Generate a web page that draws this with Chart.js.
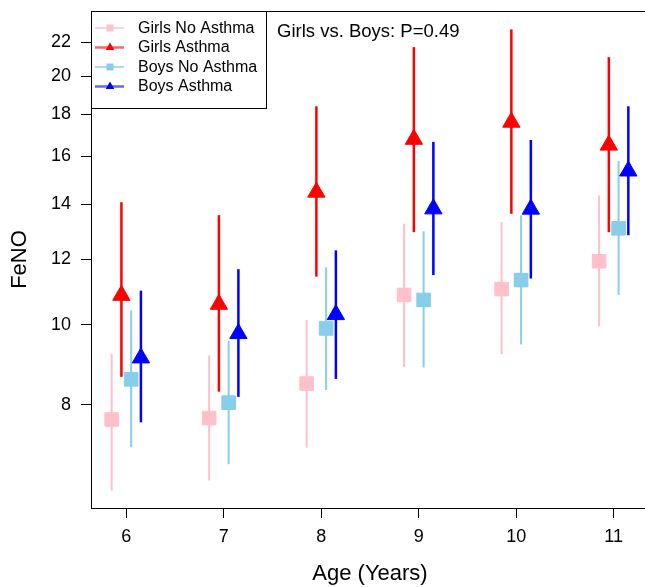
<!DOCTYPE html>
<html>
<head>
<meta charset="utf-8">
<script src="https://cdn.jsdelivr.net/npm/chart.js@4/dist/chart.umd.min.js"></script>
<style>
  html, body { margin: 0; padding: 0; background: #fff; overflow: hidden; width: 645px; height: 587px; }
  #wrap { position: absolute; left: 0; top: 0; width: 660px; height: 587px; }
</style>
</head>
<body>
<div id="wrap"><canvas id="c"></canvas></div>
<script>
// ---- data ----
const ages = [6, 7, 8, 9, 10, 11];
const yTicks = [8, 10, 12, 14, 16, 18, 20, 22];

const girlsNoAsthma    = [7.68, 7.71, 8.49, 10.87, 11.05, 11.94];
const girlsNoAsthmaLo  = [6.30, 6.48, 7.10, 8.89, 9.21, 9.96];
const girlsNoAsthmaHi  = [9.22, 9.18, 10.14, 13.26, 13.32, 14.35];

const girlsAsthma      = [10.86, 10.59, 14.48, 16.78, 17.60, 16.51];
const girlsAsthmaLo    = [8.65, 8.30, 11.44, 12.95, 13.63, 12.95];
const girlsAsthmaHi    = [14.08, 13.58, 18.40, 21.70, 22.80, 21.10];

const boysNoAsthma     = [8.59, 8.05, 9.90, 10.72, 11.33, 13.09];
const boysNoAsthmaLo   = [7.11, 6.78, 8.34, 8.88, 9.47, 10.87];
const boysNoAsthmaHi   = [10.41, 9.57, 11.74, 12.98, 13.57, 15.80];

const boysAsthma       = [9.12, 9.76, 10.29, 13.82, 13.81, 15.36];
const boysAsthmaLo     = [7.62, 8.18, 8.60, 11.49, 11.38, 12.84];
const boysAsthmaHi     = [11.00, 11.68, 12.31, 16.66, 16.75, 18.40];

const seriesNames = ['Girls No Asthma', 'Girls Asthma', 'Boys No Asthma', 'Boys Asthma'];
const annotationText = 'Girls vs. Boys: P=0.49';

// ---- styling ----
const FONT = "'Liberation Sans', Arial, Helvetica, sans-serif";
Chart.defaults.font.family = FONT;
Chart.defaults.color = '#000';

const dodge = [-0.15, -0.05, 0.05, 0.15];
const colors = ['#FFC0CB', '#FF0000', '#87CEEB', '#0000FF'];
const legendLine = ['rgba(255,192,203,0.7)', 'rgba(255,0,0,0.6)', 'rgba(135,206,235,0.7)', 'rgba(0,0,255,0.6)'];
const shapes = ['rect', 'triangle', 'rect', 'triangle'];
const barWidths = [2, 2.5, 2, 2.5];
const means = [girlsNoAsthma, girlsAsthma, boysNoAsthma, boysAsthma];
const lows = [girlsNoAsthmaLo, girlsAsthmaLo, boysNoAsthmaLo, boysAsthmaLo];
const highs = [girlsNoAsthmaHi, girlsAsthmaHi, boysNoAsthmaHi, boysAsthmaHi];

const datasets = seriesNames.map((name, i) => ({
  label: name,
  data: ages.map((a, j) => ({ x: a + dodge[i], y: means[i][j] })),
  lo: lows[i],
  hi: highs[i],
  backgroundColor: colors[i],
  borderColor: colors[i],
  borderWidth: 1,
  pointStyle: shapes[i],
  pointRadius: shapes[i] === 'rect' ? 9.6 : 10,
  showLine: false,
  barW: barWidths[i]
}));

const errorBars = {
  id: 'errorBars',
  beforeDatasetsDraw(chart) {
    const ctx = chart.ctx;
    const xs = chart.scales.x, ys = chart.scales.y;
    ctx.save();
    chart.data.datasets.forEach((ds) => {
      ctx.strokeStyle = ds.borderColor;
      ctx.lineWidth = ds.barW;
      ctx.lineCap = 'butt';
      ds.data.forEach((p, j) => {
        const px = xs.getPixelForValue(p.x);
        ctx.beginPath();
        ctx.moveTo(px, ys.getPixelForValue(ds.lo[j]));
        ctx.lineTo(px, ys.getPixelForValue(ds.hi[j]));
        ctx.stroke();
      });
    });
    ctx.restore();
  }
};

const decor = {
  id: 'decor',
  afterDraw(chart) {
    const ctx = chart.ctx;
    const a = chart.chartArea;
    ctx.save();
    // plot box (right side falls just outside the visible page, as in the reference)
    ctx.strokeStyle = '#000';
    ctx.lineWidth = 1;
    const L = Math.round(a.left) + 0.5, T = Math.round(a.top) + 0.5, B = Math.round(a.bottom) + 0.5;
    ctx.strokeRect(L, T, Math.round(a.right - a.left), B - T);
    // legend box
    const lx = L, ly = T;
    ctx.fillStyle = '#fff';
    ctx.fillRect(lx, ly, 175, 97);
    ctx.strokeRect(lx, ly, 175, 97);
    const rows = [28, 47.5, 67, 86.5];
    ctx.font = '16px ' + FONT;
    ctx.textBaseline = 'middle';
    ctx.textAlign = 'left';
    chart.data.datasets.forEach((ds, i) => {
      const y = rows[i];
      ctx.strokeStyle = legendLine[i];
      ctx.lineWidth = ds.barW;
      ctx.beginPath();
      ctx.moveTo(95, y); ctx.lineTo(124, y);
      ctx.stroke();
      ctx.fillStyle = ds.backgroundColor;
      if (ds.pointStyle === 'rect') {
        ctx.fillRect(106.5, y - 3.5, 7, 7);
      } else {
        const r = 5;
        ctx.beginPath();
        ctx.moveTo(110, y - r);
        ctx.lineTo(110 + r * 0.866, y + r / 2);
        ctx.lineTo(110 - r * 0.866, y + r / 2);
        ctx.closePath();
        ctx.fill();
      }
      ctx.fillStyle = '#000';
      ctx.fillText(ds.label, 138, y + 0.5);
    });
    // annotation
    ctx.font = '18.5px ' + FONT;
    ctx.textBaseline = 'alphabetic';
    ctx.fillStyle = '#000';
    ctx.fillText(annotationText, 277, 36.7);
    ctx.restore();
  }
};

new Chart(document.getElementById('c'), {
  type: 'scatter',
  data: { datasets },
  plugins: [errorBars, decor],
  options: {
    responsive: true,
    maintainAspectRatio: false,
    animation: false,
    events: [],
    layout: { padding: { top: 8, left: 0, right: 5.6, bottom: 0 } },
    plugins: { legend: { display: false }, tooltip: { enabled: false } },
    scales: {
      x: {
        type: 'linear',
        min: 5.638,
        max: 11.362,
        afterBuildTicks: (s) => { s.ticks = ages.map(v => ({ value: v })); },
        afterFit: (s) => { s.height = 79; s.paddingLeft = 0; s.paddingRight = 0; },
        ticks: { font: { size: 18 }, padding: 8, color: '#000', callback: (v) => String(v) },
        grid: { drawOnChartArea: false, drawTicks: true, tickLength: 10, color: '#000', lineWidth: 1 },
        border: { display: false },
        title: { display: true, text: 'Age (Years)', font: { size: 22 }, color: '#000', padding: { top: 0, bottom: 0 } }
      },
      y: {
        type: 'logarithmic',
        min: 6,
        max: 24,
        afterBuildTicks: (s) => { s.ticks = yTicks.map(v => ({ value: v })); },
        afterFit: (s) => { s.width = 91; s.paddingTop = 0; s.paddingBottom = 0; },
        ticks: { font: { size: 18 }, padding: 10, color: '#000', callback: (v) => String(v) },
        grid: { drawOnChartArea: false, drawTicks: true, tickLength: 10, color: '#000', lineWidth: 1 },
        border: { display: false },
        title: { display: true, text: 'FeNO', font: { size: 22 }, color: '#000', padding: { top: 6.5, bottom: 0 } }
      }
    }
  }
});
</script>
</body>
</html>
